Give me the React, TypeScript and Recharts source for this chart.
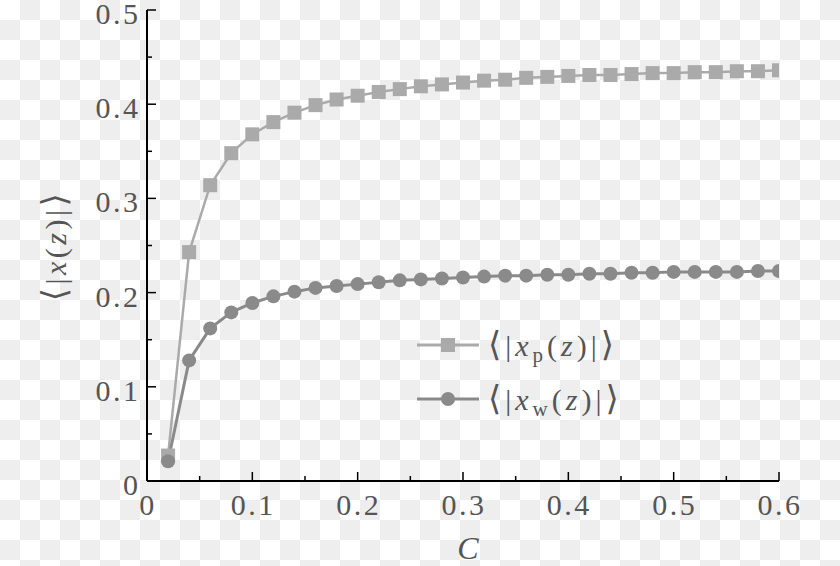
import { LineChart, Line, XAxis, YAxis, Legend } from 'recharts';

// C values (x) and the two averaged displacements
const C = [
  0.02, 0.04, 0.06, 0.08, 0.1, 0.12, 0.14, 0.16, 0.18, 0.2,
  0.22, 0.24, 0.26, 0.28, 0.3, 0.32, 0.34, 0.36, 0.38, 0.4,
  0.42, 0.44, 0.46, 0.48, 0.5, 0.52, 0.54, 0.56, 0.58, 0.6,
];
const xP = [
  0.027, 0.243, 0.314, 0.348, 0.368, 0.381, 0.391, 0.399, 0.405, 0.409,
  0.413, 0.416, 0.419, 0.421, 0.423, 0.425, 0.426, 0.428, 0.429, 0.43,
  0.431, 0.431, 0.432, 0.433, 0.433, 0.434, 0.434, 0.435, 0.435, 0.436,
];
const xW = [
  0.021, 0.128, 0.162, 0.179, 0.189, 0.196, 0.201, 0.205, 0.207, 0.209,
  0.211, 0.213, 0.214, 0.215, 0.216, 0.217, 0.218, 0.218, 0.219, 0.219,
  0.22, 0.22, 0.221, 0.221, 0.222, 0.222, 0.222, 0.222, 0.223, 0.223,
];

const xTicks = [0, 0.05, 0.1, 0.15, 0.2, 0.25, 0.3, 0.35, 0.4, 0.45, 0.5, 0.55, 0.6];
const xTickLabels = ['0', '', '0.1', '', '0.2', '', '0.3', '', '0.4', '', '0.5', '', '0.6'];
const yTicks = [0, 0.05, 0.1, 0.15, 0.2, 0.25, 0.3, 0.35, 0.4, 0.45, 0.5];
const yTickLabels = ['0', '', '0.1', '', '0.2', '', '0.3', '', '0.4', '', '0.5'];

const data = C.map((c, i) => ({ c, xp: xP[i], xw: xW[i] }));

const FONT = "'Liberation Serif', 'Times New Roman', 'DejaVu Serif', serif";
const TEXT = '#555555';
const P_COLOR = '#aaaaaa';
const W_COLOR = '#8a8a8a';

const PLOT = { left: 147, top: 10, right: 779, bottom: 481 };

const textStyle = (size: number, spacing: number, italic = false) => ({
  fontFamily: FONT,
  fontSize: size,
  letterSpacing: spacing,
  fontStyle: italic ? 'italic' : 'normal',
  fill: TEXT,
});

const AxisTick = (props: any) => {
  const { x, y, index, side, labels, showText } = props;
  const label = labels[index];
  const len = label ? 9 : 5;
  let line;
  if (side === 'bottom') line = <line x1={x} x2={x} y1={y} y2={y - len} />;
  else if (side === 'top') line = <line x1={x} x2={x} y1={y} y2={y + len} />;
  else if (side === 'left') line = <line x1={x} x2={x + len} y1={y} y2={y} />;
  else line = <line x1={x} x2={x - len} y1={y} y2={y} />;
  return (
    <g>
      <g stroke="#000" strokeWidth={1.5}>{line}</g>
      {showText && label && side === 'bottom' && (
        <text x={x + 1} y={y + 34} textAnchor="middle" style={textStyle(30, 2.5)}>
          {label}
        </text>
      )}
      {showText && label && side === 'left' && (
        <text x={x - 6.5} y={y + 14} textAnchor="end" style={textStyle(30, 2.5)}>
          {label}
        </text>
      )}
    </g>
  );
};

const SquareDot = (props: any) => {
  const { cx, cy, index } = props;
  if (cx == null || cy == null) return <g key={index} />;
  return <rect key={index} x={cx - 7} y={cy - 7} width={14} height={14} fill={P_COLOR} />;
};

const MathLabel = ({ sub }: { sub?: string }) => (
  <>
    <tspan style={{ fontSize: 34 }}>⟨</tspan>
    <tspan>|</tspan>
    <tspan style={{ fontStyle: 'italic' }}>x</tspan>
    {sub && (
      <tspan style={{ fontSize: 21 }} dy={6}>
        {sub}
      </tspan>
    )}
    <tspan dy={sub ? -6 : 0}>(</tspan>
    <tspan style={{ fontStyle: 'italic' }}>z</tspan>
    <tspan>)|</tspan>
    <tspan style={{ fontSize: 34 }}>⟩</tspan>
  </>
);

const LegendBox = () => (
  <svg width={220} height={110} style={{ display: 'block', overflow: 'visible' }}>
    <line x1={0} x2={62} y1={27} y2={27} stroke={P_COLOR} strokeWidth={3} />
    <rect x={24} y={20} width={14} height={14} fill={P_COLOR} />
    <text x={71} y={38} style={textStyle(30, 4)}>
      <MathLabel sub="p" />
    </text>
    <line x1={0} x2={62} y1={81} y2={81} stroke={W_COLOR} strokeWidth={3} />
    <circle cx={31} cy={81} r={7} fill={W_COLOR} />
    <text x={71} y={92} style={textStyle(30, 4)}>
      <MathLabel sub="w" />
    </text>
  </svg>
);

const XTitle = () => (
  <text x={(PLOT.left + PLOT.right) / 2 + 5} y={559} textAnchor="middle" style={textStyle(32, 0, true)}>
    C
  </text>
);

const YTitle = () => {
  const cx = 66;
  const cy = (PLOT.top + PLOT.bottom) / 2;
  return (
    <text x={cx} y={cy} transform={`rotate(-90 ${cx} ${cy})`} textAnchor="middle" style={textStyle(30, 3.5)}>
      <MathLabel />
    </text>
  );
};

export default function App() {
  return (
    <div
      style={{
        position: 'absolute',
        left: 0,
        top: 0,
        width: 840,
        height: 566,
        background: 'conic-gradient(#eeeeee 0 25%, #ffffff 0 50%, #eeeeee 0 75%, #ffffff 0) 0 0 / 40px 40px',
      }}
    >
      <LineChart width={840} height={566} data={data} margin={{ top: 10, right: 61, bottom: 45, left: 87 }}>
        <XAxis
          type="number"
          dataKey="c"
          domain={[0, 0.6]}
          ticks={xTicks}
          interval={0}
          allowDataOverflow
          height={40}
          tickSize={0}
          tickMargin={0}
          tickLine={false}
          axisLine={{ stroke: '#000', strokeWidth: 2 }}
          tick={(p: any) => <AxisTick {...p} side="bottom" labels={xTickLabels} showText />}
          label={() => <XTitle />}
        />
        <XAxis
          xAxisId="top"
          orientation="top"
          type="number"
          dataKey="c"
          domain={[0, 0.6]}
          ticks={xTicks}
          interval={0}
          allowDataOverflow
          height={0}
          tickSize={0}
          tickMargin={0}
          tickLine={false}
          axisLine={{ stroke: '#000', strokeWidth: 2 }}
          tick={(p: any) => <AxisTick {...p} side="top" labels={xTickLabels} />}
        />
        <YAxis
          type="number"
          domain={[0, 0.5]}
          ticks={yTicks}
          interval={0}
          allowDataOverflow
          width={60}
          tickSize={0}
          tickMargin={0}
          tickLine={false}
          axisLine={{ stroke: '#000', strokeWidth: 2 }}
          tick={(p: any) => <AxisTick {...p} side="left" labels={yTickLabels} showText />}
          label={() => <YTitle />}
        />
        <YAxis
          yAxisId="right"
          orientation="right"
          type="number"
          domain={[0, 0.5]}
          ticks={yTicks}
          interval={0}
          allowDataOverflow
          width={0}
          tickSize={0}
          tickMargin={0}
          tickLine={false}
          axisLine={{ stroke: '#000', strokeWidth: 2 }}
          tick={(p: any) => <AxisTick {...p} side="right" labels={yTickLabels} />}
        />
        <Legend
          layout="vertical"
          align="center"
          verticalAlign="middle"
          wrapperStyle={{ position: 'absolute', left: 417, top: 318, width: 220, height: 110 }}
          content={() => <LegendBox />}
        />
        <Line
          type="linear"
          dataKey="xp"
          stroke={P_COLOR}
          strokeWidth={2.5}
          dot={SquareDot}
          activeDot={false}
          isAnimationActive={false}
        />
        <Line
          type="linear"
          dataKey="xw"
          stroke={W_COLOR}
          strokeWidth={3}
          dot={{ r: 7, fill: W_COLOR, stroke: 'none' }}
          activeDot={false}
          isAnimationActive={false}
        />
      </LineChart>
    </div>
  );
}
